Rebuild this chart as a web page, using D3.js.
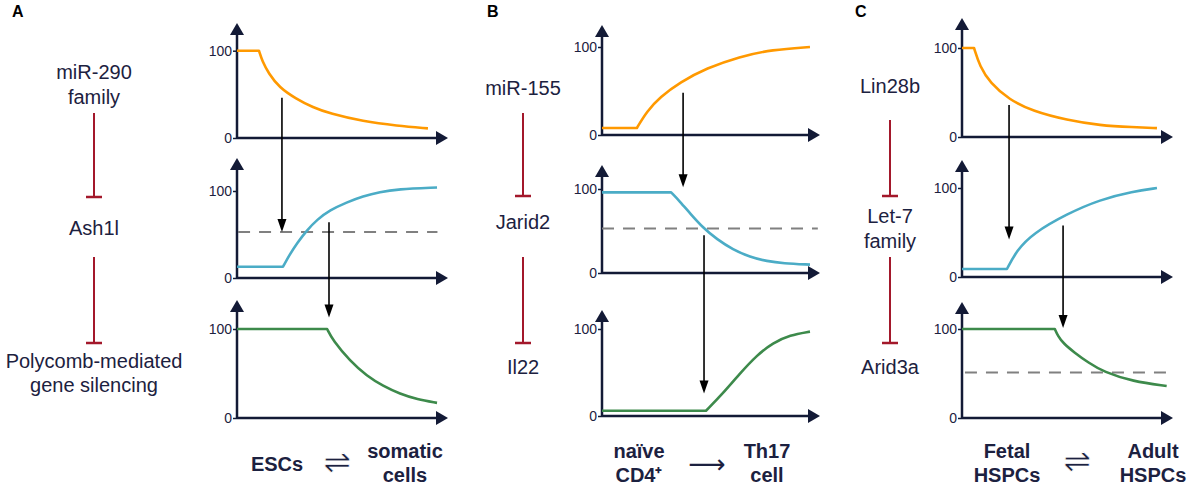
<!DOCTYPE html>
<html>
<head>
<meta charset="utf-8">
<script src="https://cdn.jsdelivr.net/npm/d3@7"></script>
<style>
  body { margin: 0; background: #fff; }
  text { font-family: "Liberation Sans", Arial, sans-serif; fill: #1c2140; }
  .sym { font-family: "DejaVu Sans", sans-serif; }
  .thin { stroke: #fff; stroke-width: 0.7px; }
</style>
</head>
<body>
<svg id="chart" width="1192" height="486"></svg>
<script>
// ---- Data ----
var panelLetters = ['A', 'B', 'C'];
var regulators = [
  [['miR-290', 'family'], ['Ash1l'], ['Polycomb-mediated', 'gene silencing']],
  [['miR-155'], ['Jarid2'], ['Il22']],
  [['Lin28b'], ['Let-7', 'family'], ['Arid3a']]
];
var stateLabels = [
  [['ESCs'], ['somatic', 'cells']],
  [['naïve', 'CD4⁺'], ['Th17', 'cell']],
  [['Fetal', 'HSPCs'], ['Adult', 'HSPCs']]
];
var transitionSymbols = ['⇌', '⟶', '⇌'];
var yTicks = [0, 100];

// curves: [time %, level]; first two points are the flat part
var aTop = [[0,100],[10.4,100],[12,88],[15,74],[20,58],[28,45],[36,35],[44,28],[59.7,19],[75.8,14],[90.5,11]];
var aMid = [[0,13],[21.8,13],[25,27],[28.4,40],[33.2,55],[37.9,67],[44,78],[52,87],[59.7,94],[67.8,99],[75.8,102],[94.8,104]];
var aBot = [[0,100],[42.7,100],[45.5,87],[53.6,64],[61.6,47],[69.2,36],[77.3,27],[85.3,21],[94.8,17]];
var bTop = [[0,8],[16,8],[20.6,27],[26.6,43],[35.8,60],[48,76],[63,89],[78,97],[95.4,100]];
var bMid = [[0,96],[31.7,96],[35.8,85],[40.4,71],[46.3,54],[52.8,40],[60,28],[67.9,19],[75.7,14],[83,11.5],[95.4,10]];
var bBot = [[0,6],[47.7,6],[55.5,26],[63.3,49],[71.1,70],[78.4,84],[86.2,93],[95.4,97]];
var cTop = [[0,100],[5.7,100],[8.5,79],[13.3,61],[22.3,42],[33.6,29],[49.8,19],[65.4,13],[81,11],[92.4,10]];
var cMid = [[0,9],[21.3,9],[26,30],[33.6,49],[49.8,71],[65.4,87],[81,96],[92.4,100]];
var cBot = [[0,100],[44,100],[45.5,92],[48,84],[53,74],[60,62],[67,52],[81,41],[97,36]];
var curves = [[aTop, aMid, aBot], [bTop, bMid, bBot], [cTop, cMid, cBot]];

// dashed thresholds: [panel, plot, level, from %, to %]
var thresholds = [[0, 1, 53, 0.5, 95], [1, 1, 53, 0, 99], [2, 2, 51, 1.4, 97.6]];

// causal arrows: [panel, time %, fromPlot, fromLevel, toPlot, toLevel]
var links = [
  [0, 21.3, 0, 46, 1, 53], [0, 43.6, 1, 64, 2, 113],
  [1, 37.2, 0, 48, 1, 102], [1, 46.8, 1, 45, 2, 26],
  [2, 22.3, 0, 36, 1, 42], [2, 47.9, 1, 58, 2, 101]
];

// ---- Layout ----
var panelX = [237, 602, 962];
var axisLen = [211, 218, 211];
var plotY = [ // [y of 100, y of 0, y of axis tip]
  [[50.7, 138, 23], [191, 278, 158], [329, 418, 300]],
  [[47, 135, 25], [189, 273, 165], [329, 416, 310]],
  [[48, 137, 18], [188, 277, 160], [329, 418, 302]]
];
var letterX = [12, 487, 855];
var regX = [94, 523, 890];
var regBase = [[[79, 104], [235], [368, 392]], [[95], [229], [374]], [[93], [223, 248], [374]]];
var inhib = [[[113, 197], [257, 343]], [[113, 196], [257, 343]], [[120, 196], [257, 343]]];
var stateX = [[277, 405], [639, 767], [1007, 1153]];
var symPos = [[337, 463], [707, 465], [1077, 462]];

var plotColors = ['#ff9900', '#4bacc6', '#3d8a4b'];
var ink = '#131a36';
var red = '#a3182b';

var svg = d3.select('#chart');

function tri(g, pts, color) {
  g.append('path')
    .attr('d', 'M' + pts.map(function(p) { return p.join(','); }).join('L') + 'Z')
    .attr('fill', color);
}

panelLetters.forEach(function(letter, pi) {
  var ox = panelX[pi];
  var x = d3.scaleLinear().domain([0, 100]).range([ox, ox + axisLen[pi]]);
  var ys = plotY[pi].map(function(r) {
    return d3.scaleLinear().domain([0, 100]).range([r[1], r[0]]);
  });
  var g = svg.append('g');

  // panel letter
  g.append('text').attr('x', letterX[pi]).attr('y', 17)
    .style('font-weight', 'bold').style('font-size', '16px').style('fill', '#000')
    .text(letter);

  // regulator chain
  regulators[pi].forEach(function(lines, k) {
    lines.forEach(function(t, j) {
      g.append('text').attr('x', regX[pi]).attr('y', regBase[pi][k][j])
        .attr('text-anchor', 'middle').style('font-size', '20px').text(t);
    });
  });
  inhib[pi].forEach(function(seg) {
    g.append('line').attr('x1', regX[pi]).attr('x2', regX[pi])
      .attr('y1', seg[0]).attr('y2', seg[1])
      .attr('stroke', red).attr('stroke-width', 2);
    g.append('line').attr('x1', regX[pi] - 8).attr('x2', regX[pi] + 8)
      .attr('y1', seg[1]).attr('y2', seg[1])
      .attr('stroke', red).attr('stroke-width', 2.5);
  });

  // axes
  ys.forEach(function(y, k) {
    var tipY = plotY[pi][k][2];
    var axis = d3.axisLeft(y).tickValues(yTicks).tickSize(4).tickPadding(1).tickSizeOuter(0);
    var ag = g.append('g').attr('transform', 'translate(' + ox + ',0)').call(axis);
    ag.select('.domain').remove();
    ag.selectAll('.tick line').attr('stroke', ink).attr('stroke-width', 1.5);
    ag.selectAll('.tick text').style('font-size', '14px').style('fill', '#1c2140')
      .attr('font-family', null);
    g.append('line').attr('x1', ox).attr('x2', ox)
      .attr('y1', y(0) + 1).attr('y2', tipY + 10)
      .attr('stroke', ink).attr('stroke-width', 2.5);
    tri(g, [[ox, tipY], [ox - 7, tipY + 12], [ox + 7, tipY + 12]], ink);
    var xe = x.range()[1];
    g.append('line').attr('x1', ox).attr('x2', xe - 10)
      .attr('y1', y(0)).attr('y2', y(0))
      .attr('stroke', ink).attr('stroke-width', 2.5);
    tri(g, [[xe, y(0)], [xe - 12, y(0) - 7], [xe - 12, y(0) + 7]], ink);
  });

  // thresholds
  thresholds.filter(function(t) { return t[0] === pi; }).forEach(function(t) {
    var y = ys[t[1]];
    g.append('line').attr('x1', x(t[3])).attr('x2', x(t[4]))
      .attr('y1', y(t[2])).attr('y2', y(t[2]))
      .attr('stroke', '#808080').attr('stroke-width', 2)
      .attr('stroke-dasharray', '12,9');
  });

  // curves
  curves[pi].forEach(function(pts, k) {
    var y = ys[k];
    var flat = d3.line().x(function(d) { return x(d[0]); }).y(function(d) { return y(d[1]); });
    var bend = d3.line().x(function(d) { return x(d[0]); }).y(function(d) { return y(d[1]); })
      .curve(d3.curveBasis);
    g.append('path')
      .attr('d', flat(pts.slice(0, 2)) + bend(pts.slice(1)).replace(/^M/, 'L'))
      .attr('fill', 'none').attr('stroke', plotColors[k]).attr('stroke-width', 2.6)
      .attr('stroke-linejoin', 'round');
  });

  // causal arrows
  links.filter(function(l) { return l[0] === pi; }).forEach(function(l) {
    var ax = x(l[1]);
    var y1 = ys[l[2]](l[3]);
    var y2 = ys[l[4]](l[5]);
    g.append('line').attr('x1', ax).attr('x2', ax).attr('y1', y1).attr('y2', y2 - 10)
      .attr('stroke', '#000').attr('stroke-width', 1.6);
    tri(g, [[ax, y2], [ax - 4.5, y2 - 13], [ax + 4.5, y2 - 13]], '#000');
  });

  // cell states
  stateLabels[pi].forEach(function(lines, k) {
    var bases = lines.length === 1 ? [471] : [458, 482];
    lines.forEach(function(t, j) {
      g.append('text').attr('x', stateX[pi][k]).attr('y', bases[j])
        .attr('text-anchor', 'middle').style('font-weight', 'bold')
        .style('font-size', '20px').text(t);
    });
  });
  g.append('text').attr('class', pi === 1 ? 'sym' : 'sym thin')
    .attr('x', symPos[pi][0]).attr('y', symPos[pi][1] + (pi === 1 ? 8 : 10))
    .attr('text-anchor', 'middle').style('font-size', pi === 1 ? '26px' : '33px')
    .text(transitionSymbols[pi]);
});
</script>
</body>
</html>
